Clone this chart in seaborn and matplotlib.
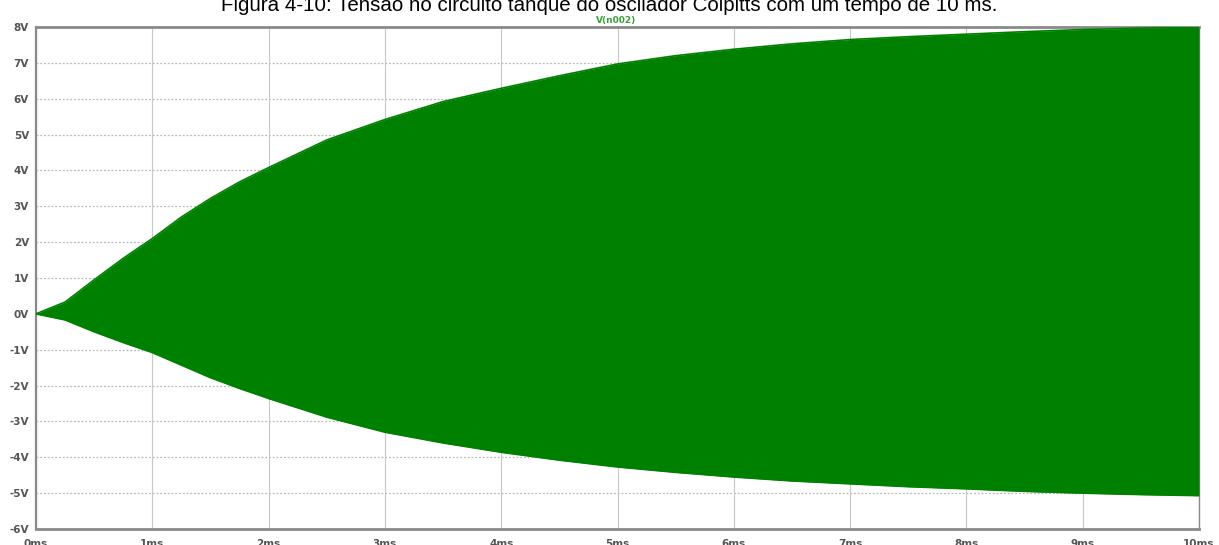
import matplotlib
matplotlib.use("Agg")
import matplotlib.pyplot as plt
import seaborn as sns
import pandas as pd

# Envelope of the tank-circuit voltage V(n002) over the 10 ms transient
time_ms = [0, 0.25, 0.5, 0.75, 1.0, 1.25, 1.5, 1.75, 2.0, 2.5, 3.0, 3.5, 4.0,
           4.5, 5.0, 5.5, 6.0, 6.5, 7.0, 7.5, 8.0, 8.5, 9.0, 9.5, 10.0]
v_upper = [0, 0.33, 0.95, 1.55, 2.1, 2.7, 3.22, 3.68, 4.08, 4.85, 5.42, 5.92, 6.29,
           6.64, 6.97, 7.2, 7.38, 7.53, 7.65, 7.73, 7.8, 7.87, 7.93, 7.97, 8.0]
v_lower = [0, -0.17, -0.5, -0.8, -1.08, -1.43, -1.78, -2.08, -2.36, -2.88, -3.3, -3.6, -3.86,
           -4.08, -4.27, -4.42, -4.55, -4.66, -4.74, -4.82, -4.88, -4.95, -5.0, -5.04, -5.07]

x_ticks = list(range(0, 11))
x_labels = [f"{t}ms" for t in x_ticks]
y_ticks = list(range(-6, 9))
y_labels = [f"{v}V" for v in y_ticks]

title = "Figura 4-10: Tensão no circuito tanque do oscilador Colpitts com um tempo de 10 ms."
trace_name = "V(n002)"
trace_color = "#008000"

sns.set_style("white")
plt.rcParams["font.family"] = ["Liberation Sans", "DejaVu Sans"]

df = pd.DataFrame({"t": time_ms, "upper": v_upper, "lower": v_lower})

fig = plt.figure(figsize=(12.19, 5.45), dpi=100)
ax = fig.add_axes([36 / 1219, 1 - 529 / 545, (1199 - 36) / 1219, (529 - 27) / 545])

ax.fill_between(df["t"], df["lower"], df["upper"], color=trace_color, linewidth=0, zorder=3)
sns.lineplot(data=df, x="t", y="upper", ax=ax, color=trace_color, linewidth=1.2, zorder=4)
sns.lineplot(data=df, x="t", y="lower", ax=ax, color=trace_color, linewidth=1.2, zorder=4)

ax.set_xlim(0, 10)
ax.set_ylim(-6, 8)
ax.set_xlabel("")
ax.set_ylabel("")

ax.set_xticks(x_ticks)
ax.set_xticklabels(x_labels)
ax.set_yticks(y_ticks)
ax.set_yticklabels(y_labels)

# grid: dotted horizontals, thin solid verticals
for v in y_ticks:
    ax.axhline(v, color="#b8b8b8", linestyle=(0, (1.5, 1.5)), linewidth=0.9, zorder=1)
for t in x_ticks:
    ax.axvline(t, color="#c8c8c8", linewidth=0.8, zorder=1)

for side in ["left", "right", "top", "bottom"]:
    ax.spines[side].set_color("#8a8a8a")
    ax.spines[side].set_visible(True)
ax.spines["top"].set_linewidth(2.0)
ax.spines["bottom"].set_linewidth(2.0)
ax.spines["left"].set_linewidth(1.6)
ax.spines["right"].set_linewidth(1.0)

ax.tick_params(axis="y", direction="out", length=4, width=1, color="#707070",
               labelsize=7.5, labelcolor="#555555", pad=1)
ax.tick_params(axis="x", direction="inout", length=7, width=1, color="#707070",
               labelsize=7.5, labelcolor="#555555", pad=4)
for lab in ax.get_xticklabels() + ax.get_yticklabels():
    lab.set_fontweight("bold")
    lab.set_family("DejaVu Sans")

fig.text(0.5, 1 - 11 / 545, title, ha="center", va="baseline", fontsize=14.8, color="#000000")
fig.text(616 / 1219, 1 - 23 / 545, trace_name, ha="center", va="baseline",
         fontsize=6.5, fontweight="bold", color="#3aa03a", family="DejaVu Sans")

fig.savefig("out.png", dpi=100)
